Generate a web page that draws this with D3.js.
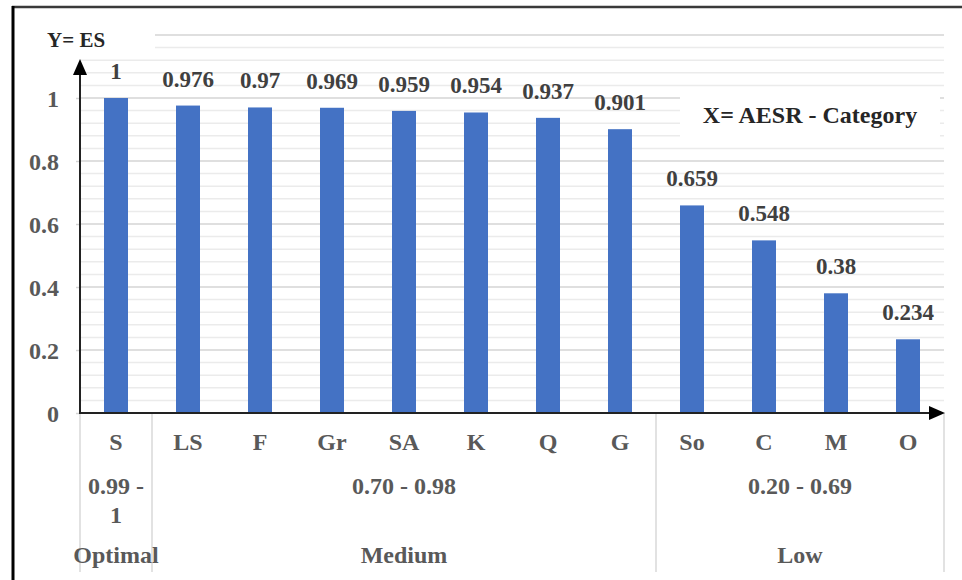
<!DOCTYPE html>
<html>
<head>
<meta charset="utf-8">
<script src="https://cdn.jsdelivr.net/npm/d3@7"></script>
<style>
  html, body { margin: 0; padding: 0; background: #fff; }
  svg { display: block; }
</style>
</head>
<body>
<svg id="chart" width="962" height="580" font-family="Liberation Serif, DejaVu Serif" font-weight="bold"></svg>
<script>
// AESR categories and their ES values
const categories = ["S", "LS", "F", "Gr", "SA", "K", "Q", "G", "So", "C", "M", "O"];
const esValues = [1, 0.976, 0.97, 0.969, 0.959, 0.954, 0.937, 0.901, 0.659, 0.548, 0.38, 0.234];
const valueLabels = ["1", "0.976", "0.97", "0.969", "0.959", "0.954", "0.937", "0.901", "0.659", "0.548", "0.38", "0.234"];

// Category groups (second and third label rows)
const groupNames = ["Optimal", "Medium", "Low"];
const groupRanges = [["0.99 -", "1"], ["0.70 - 0.98"], ["0.20 - 0.69"]];
const groupSizes = [1, 7, 4];

// Y axis ticks
const yTicks = [0, 0.2, 0.4, 0.6, 0.8, 1];
const yTickLabels = ["0", "0.2", "0.4", "0.6", "0.8", "1"];

const FONT = "Liberation Serif, DejaVu Serif";
const svg = d3.select("#chart");

const left = 80, right = 944, base = 413;
const x = d3.scaleBand().domain(categories).range([left, right])
  .paddingInner(2 / 3).paddingOuter(1 / 3);
const y = d3.scaleLinear().domain([0, 1.2]).range([base, base - 1.2 * 315]);

// Gridlines: minor every 0.04, major every 0.2
const minor = d3.range(0, 1.2001, 0.04).map(v => +v.toFixed(2));
svg.append("g").selectAll("line").data(minor.filter(v => v > 0)).join("line")
  .attr("x1", left).attr("x2", right)
  .attr("y1", d => y(d)).attr("y2", d => y(d))
  .attr("stroke", d => (Math.abs(d / 0.2 - Math.round(d / 0.2)) < 1e-6) ? "#d4d4d4" : "#ebebeb")
  .attr("stroke-width", 1.5);

// Category separators below the axis
const bounds = [0];
groupSizes.forEach((n, i) => bounds.push(bounds[i] + n));
const step = x.step();
svg.append("g").selectAll("line").data(bounds).join("line")
  .attr("x1", d => left + d * step).attr("x2", d => left + d * step)
  .attr("y1", base).attr("y2", 572)
  .attr("stroke", "#d9d9d9").attr("stroke-width", 1.5);

// Bars
svg.append("g").selectAll("rect").data(esValues).join("rect")
  .attr("x", (d, i) => x(categories[i]))
  .attr("width", x.bandwidth())
  .attr("y", d => y(d))
  .attr("height", d => y(0) - y(d))
  .attr("fill", "#4472C4");

// Value labels
svg.append("g").selectAll("text").data(esValues).join("text")
  .attr("x", (d, i) => x(categories[i]) + x.bandwidth() / 2)
  .attr("y", d => y(d) - 19)
  .attr("text-anchor", "middle")
  .attr("font-size", 23)
  .attr("fill", "#404040")
  .text((d, i) => valueLabels[i]);

// Y axis ticks and labels
const yAxis = d3.axisLeft(y).tickValues(yTicks).tickSize(4)
  .tickFormat((d, i) => yTickLabels[i]);
const ya = svg.append("g").attr("transform", `translate(${left},0)`).call(yAxis)
  .attr("font-family", FONT).attr("font-size", 24);
ya.select(".domain").remove();
ya.selectAll(".tick line").attr("stroke", "#d4d4d4").attr("stroke-width", 1.5);
ya.selectAll(".tick text")
  .attr("x", -21)
  .attr("dy", "0.35em")
  .attr("fill", "#595959");

// Axis lines with arrowheads
svg.append("line").attr("x1", left).attr("x2", left).attr("y1", base + 1).attr("y2", 70)
  .attr("stroke", "#222").attr("stroke-width", 2);
svg.append("path").attr("d", `M${left},59 L${left - 7},75 L${left + 7},75 Z`).attr("fill", "#000");
svg.append("line").attr("x1", left - 1).attr("x2", 932).attr("y1", base).attr("y2", base)
  .attr("stroke", "#222").attr("stroke-width", 2);
svg.append("path").attr("d", `M945,${base} L929,${base - 7} L929,${base + 7} Z`).attr("fill", "#000");

// Category labels (first row)
svg.append("g").selectAll("text").data(categories).join("text")
  .attr("x", d => x(d) + x.bandwidth() / 2)
  .attr("y", 450)
  .attr("text-anchor", "middle")
  .attr("font-size", 24)
  .attr("fill", "#595959")
  .text(d => d);

// Group ranges (second row) and group names (third row)
groupNames.forEach((name, i) => {
  const cx = left + (bounds[i] + bounds[i + 1]) / 2 * step;
  groupRanges[i].forEach((line, j) => {
    svg.append("text")
      .attr("x", cx).attr("y", 494 + j * 29)
      .attr("text-anchor", "middle")
      .attr("font-size", 24)
      .attr("fill", "#595959")
      .text(line);
  });
  svg.append("text")
    .attr("x", cx).attr("y", 563)
    .attr("text-anchor", "middle")
    .attr("font-size", 24)
    .attr("fill", "#595959")
    .text(name);
});

// Axis titles on white boxes
svg.append("rect").attr("x", 16).attr("y", 18).attr("width", 139).attr("height", 37).attr("fill", "#fff");
svg.append("text").attr("x", 47).attr("y", 47).attr("font-size", 21).attr("fill", "#262626").text("Y= ES");
svg.append("rect").attr("x", 680).attr("y", 93).attr("width", 260).attr("height", 46).attr("fill", "#fff");
svg.append("text").attr("x", 810).attr("y", 123).attr("text-anchor", "middle")
  .attr("font-size", 24).attr("fill", "#262626").text("X= AESR - Category");

// Outer frame
svg.append("line").attr("x1", 12).attr("x2", 962).attr("y1", 7).attr("y2", 7)
  .attr("stroke", "#3a3a3a").attr("stroke-width", 2.5);
svg.append("line").attr("x1", 13).attr("x2", 13).attr("y1", 6).attr("y2", 580)
  .attr("stroke", "#000").attr("stroke-width", 3);
</script>
</body>
</html>
